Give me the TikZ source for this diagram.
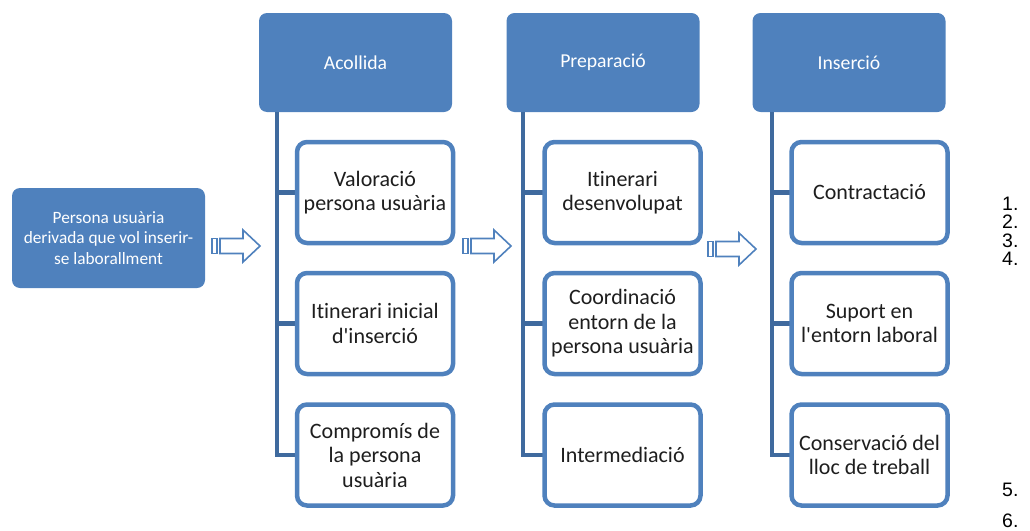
\documentclass[tikz,border=0pt]{standalone}
\usepackage{fontspec}
\setmainfont{Carlito}[Ligatures={TeXOff,NoCommon}]
\newfontfamily\arialf{Liberation Sans}
\definecolor{myblue}{HTML}{4F81BD}
\definecolor{trunkblue}{HTML}{3F6A9E}
\definecolor{txtgray}{HTML}{1E1E1E}
\newcommand\blkarrow[2]{%
  \draw[arr] (#1,#2-7.5) rectangle (#1+5,#2+7.5);
  \draw[arr] (#1+8,#2-7.5) -- (#1+31,#2-7.5) -- (#1+31,#2-16) -- (#1+48,#2)
    -- (#1+31,#2+16) -- (#1+31,#2+7.5) -- (#1+8,#2+7.5) -- cycle;}
\begin{document}
\begin{tikzpicture}[x=1pt,y=-1pt,
  hdr/.style={fill=myblue, rounded corners=8pt, minimum width=193pt, minimum height=99pt,
    text=white, inner sep=0pt, font=\fontsize{19.7}{22}\selectfont},
  src/.style={fill=myblue, rounded corners=8pt, minimum width=193pt, minimum height=100pt,
    text=white, inner sep=0pt, align=center, font=\fontsize{17.3}{20.5}\selectfont},
  child/.style={draw=myblue, line width=4.5pt, fill=white, rounded corners=10pt,
    minimum width=156pt, minimum height=101pt, inner sep=0pt, align=center,
    text=txtgray, font=\fontsize{22}{24.5}\selectfont},
  trunk/.style={draw=trunkblue, line width=4.5pt, line join=miter},
  arr/.style={draw=myblue, line width=1.6pt, fill=white, line join=miter},
  num/.style={anchor=base west, inner sep=0pt, text height=14pt, text depth=0pt,
    font=\arialf\fontsize{19.5}{19.5}\selectfont}]
\useasboundingbox (0,0) rectangle (1030,530);

% source
\node[src] (src) at (108.5,238) {Persona usuària\\derivada que vol inserir-\\se laborallment};

% headers
\node[hdr] (h1) at (355.5,62.5) {Acollida};
\node[hdr] (h2) at (603,62.5) {Preparació};
\node[hdr] (h3) at (849,62.5) {Inserció};

% trunks
\coordinate (t1) at (277,112);
\coordinate (t2) at (523,112);
\coordinate (t3) at (772,112);
\coordinate (b1) at (297,455);
\coordinate (b2) at (544,455);
\coordinate (b3) at (791,455);
\draw[trunk] (t1) |- (b1);
\draw[trunk] (t1 |- 0,192.5) -- (297,192.5);
\draw[trunk] (t1 |- 0,323.5) -- (297,323.5);
\draw[trunk] (t2) |- (b2);
\draw[trunk] (t2 |- 0,192.5) -- (544,192.5);
\draw[trunk] (t2 |- 0,323.5) -- (544,323.5);
\draw[trunk] (t3) |- (b3);
\draw[trunk] (t3 |- 0,192.5) -- (791,192.5);
\draw[trunk] (t3 |- 0,323.5) -- (791,323.5);

% children
\node[child] (c11) at (375,192.5) {Valoració\\persona usuària};
\node[child] (c12) at (375,323.5) {Itinerari inicial\\d'inserció};
\node[child] (c13) at (375,455) {Compromís de\\la persona\\usuària};
\node[child] (c21) at (622.5,192.5) {Itinerari\\desenvolupat};
\node[child] (c22) at (622.5,323.5) {Coordinació\\entorn de la\\persona usuària};
\node[child] (c23) at (622.5,455) {Intermediació};
\node[child] (c31) at (869.5,192.5) {Contractació};
\node[child] (c32) at (869.5,323.5) {Suport en\\l'entorn laboral};
\node[child] (c33) at (869.5,455) {Conservació del\\lloc de treball};

% block arrows
\blkarrow{212}{246}
\blkarrow{463}{246}
\blkarrow{708}{249}

% list numbers
\node[num] (n1) at (1002,210) {1.};
\node[num] (n2) at (1002,228.5) {2.};
\node[num] (n3) at (1002,247) {3.};
\node[num] (n4) at (1002,265.5) {4.};
\node[num] (n5) at (1002,496) {5.};
\node[num] (n6) at (1002,527) {6.};
\end{tikzpicture}
\end{document}
